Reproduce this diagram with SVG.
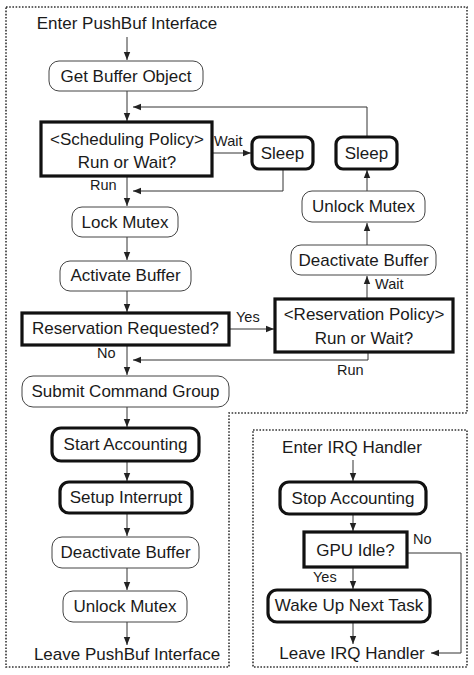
<svg xmlns="http://www.w3.org/2000/svg" width="474" height="675" viewBox="0 0 474 675">
<defs>
<marker id="ah" markerUnits="userSpaceOnUse" markerWidth="8" markerHeight="8" viewBox="0 0 8 8" refX="8" refY="4" orient="auto">
<path d="M0,0.8 L8,4 L0,7.2 Z" fill="#222"/>
</marker>
<style>
text{font-family:"Liberation Sans",Arial,sans-serif;fill:#1a1a1a}
.t{font-size:17px;text-anchor:middle}
.s{font-size:14.5px}
.thin{fill:#fff;stroke:#444;stroke-width:1}
.thick{fill:#fff;stroke:#111;stroke-width:3.2}
.dot{fill:none;stroke:#333;stroke-width:1.6;stroke-dasharray:1.6 1.6}
.c{fill:none;stroke:#333;stroke-width:1;marker-end:url(#ah)}
</style>
</defs>
<rect width="474" height="675" fill="#fff"/>
<g id="frames">
<path class="dot" d="M6,7 H467 V413 H229 V667 H6 Z"/>
<rect class="dot" x="253" y="430" width="214" height="237"/>
</g>
<g id="connectors">
<path class="c" d="M127,37 V60"/>
<path class="c" d="M127,91 V121"/>
<path class="c" d="M367,137 V107 H133"/>
<path class="c" d="M212,153 H251"/>
<path class="c" d="M283,169 V191 H133"/>
<path class="c" d="M127,176 V206"/>
<path class="c" d="M127,237 V260"/>
<path class="c" d="M127,291 V312"/>
<path class="c" d="M230,329 H274"/>
<path class="c" d="M367,299 V276"/>
<path class="c" d="M367,245 V223"/>
<path class="c" d="M367,191 V170"/>
<path class="c" d="M368,352 V360 H133"/>
<path class="c" d="M127,345 V375"/>
<path class="c" d="M127,407 V427"/>
<path class="c" d="M127,461 V481"/>
<path class="c" d="M127,513 V536"/>
<path class="c" d="M127,568 V590"/>
<path class="c" d="M127,622 V645"/>
<path class="c" d="M353,460 V481"/>
<path class="c" d="M353,514 V531"/>
<path class="c" d="M353,567 V589"/>
<path class="c" d="M353,622 V644"/>
<path class="c" d="M407,553 H461 V653 H431"/>
<text class="s" x="214" y="146">Wait</text>
<text class="s" x="90" y="190">Run</text>
<text class="s" x="375" y="289">Wait</text>
<text class="s" x="236" y="322">Yes</text>
<text class="s" x="97" y="358">No</text>
<text class="s" x="337" y="375">Run</text>
<text class="s" x="413" y="544">No</text>
<text class="s" x="313" y="582">Yes</text>
</g>
<g id="enter-pushbuf"><text class="t" x="127" y="29">Enter PushBuf Interface</text></g>
<g id="get-buffer"><rect class="thin" x="49" y="61" width="154" height="30" rx="10"/><text class="t" x="126" y="82">Get Buffer Object</text></g>
<g id="sched-policy"><rect class="thick" x="41" y="122" width="171" height="54"/><text class="t" x="127" y="145">&lt;Scheduling Policy&gt;</text><text class="t" x="127" y="168">Run or Wait?</text></g>
<g id="sleep1"><rect class="thick" x="252" y="137" width="61" height="32" rx="7"/><text class="t" x="282.5" y="159">Sleep</text></g>
<g id="sleep2"><rect class="thick" x="336" y="137" width="61" height="32" rx="7"/><text class="t" x="366.5" y="159">Sleep</text></g>
<g id="lock-mutex"><rect class="thin" x="72" y="207" width="106" height="30" rx="10"/><text class="t" x="125" y="228">Lock Mutex</text></g>
<g id="activate-buffer"><rect class="thin" x="60" y="261" width="131" height="30" rx="10"/><text class="t" x="125.5" y="281">Activate Buffer</text></g>
<g id="unlock-mutex-r"><rect class="thin" x="302" y="191" width="123" height="31" rx="10"/><text class="t" x="363.5" y="212">Unlock Mutex</text></g>
<g id="deactivate-buffer-r"><rect class="thin" x="291" y="245" width="145" height="30" rx="10"/><text class="t" x="363.5" y="266">Deactivate Buffer</text></g>
<g id="res-requested"><rect class="thick" x="22" y="313" width="207" height="32"/><text class="t" x="125.5" y="334">Reservation Requested?</text></g>
<g id="res-policy"><rect class="thick" x="275" y="299" width="178" height="53"/><text class="t" x="364" y="320">&lt;Reservation Policy&gt;</text><text class="t" x="364" y="344">Run or Wait?</text></g>
<g id="submit"><rect class="thin" x="22" y="376" width="207" height="31" rx="11"/><text class="t" x="125.5" y="397">Submit Command Group</text></g>
<g id="start-accounting"><rect class="thick" x="52" y="428" width="147" height="33" rx="9"/><text class="t" x="125.5" y="450">Start Accounting</text></g>
<g id="setup-interrupt"><rect class="thick" x="60" y="482" width="132" height="31" rx="9"/><text class="t" x="126" y="503">Setup Interrupt</text></g>
<g id="deactivate-buffer-l"><rect class="thin" x="52" y="537" width="147" height="31" rx="10"/><text class="t" x="125.5" y="558">Deactivate Buffer</text></g>
<g id="unlock-mutex-l"><rect class="thin" x="63" y="591" width="124" height="31" rx="10"/><text class="t" x="125" y="612">Unlock Mutex</text></g>
<g id="leave-pushbuf"><text class="t" x="127" y="660">Leave PushBuf Interface</text></g>
<g id="enter-irq"><text class="t" x="352" y="453">Enter IRQ Handler</text></g>
<g id="stop-accounting"><rect class="thick" x="280" y="482" width="146" height="32" rx="9"/><text class="t" x="353" y="504">Stop Accounting</text></g>
<g id="gpu-idle"><rect class="thick" x="304" y="532" width="103" height="35"/><text class="t" x="355.5" y="556">GPU Idle?</text></g>
<g id="wake-up"><rect class="thick" x="268" y="590" width="162" height="32" rx="9"/><text class="t" x="349" y="611">Wake Up Next Task</text></g>
<g id="leave-irq"><text class="t" x="352" y="659">Leave IRQ Handler</text></g>
</svg>
